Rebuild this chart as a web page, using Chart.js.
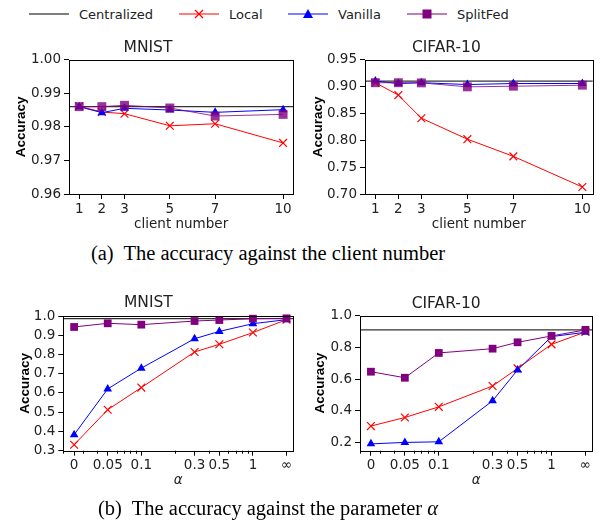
<!DOCTYPE html>
<html>
<head>
<meta charset="utf-8">
<script src="https://cdn.jsdelivr.net/npm/chart.js@4.4.0/dist/chart.umd.min.js"></script>
<style>
  body { margin: 0; width: 600px; height: 521px; position: relative; background: #fff; overflow: hidden; font-family: "DejaVu Sans", sans-serif; }
  .panel { position: absolute; }
  #legend { position: absolute; left: 0; top: 0; }
  .cap { position: absolute; left: 0; width: 536px; text-align: center; font-family: "Liberation Serif", serif; font-size: 20.5px; color: #000; line-height: 24px; }
</style>
</head>
<body>
<svg id="legend" width="600" height="28" font-family="DejaVu Sans" font-size="13" fill="#222"></svg>
<canvas id="mnistClient" class="panel" style="left:0;top:30px" width="300" height="205"></canvas>
<canvas id="cifarClient" class="panel" style="left:300px;top:30px" width="300" height="205"></canvas>
<div class="cap" style="top:241px">(a)&nbsp; The accuracy against the client number</div>
<canvas id="mnistAlpha" class="panel" style="left:0;top:280px" width="300" height="225"></canvas>
<canvas id="cifarAlpha" class="panel" style="left:300px;top:280px" width="300" height="225"></canvas>
<div class="cap" style="top:496px">(b)&nbsp; The accuracy against the parameter <i>α</i></div>
<script>
// ---- data ----
const clientNumbers = [1, 2, 3, 5, 7, 10];
const alphaLabels = ['0', '0.05', '0.1', '0.3', '0.5', '1', '∞'];
// 0 and ∞ sit one third of a decade outside 0.05 and 1 on the log axis
const alphaPositions = [0.025, 0.05, 0.1, 0.3, 0.5, 1, 2];
const alphaMinorTicks = [0.02, 0.03, 0.04, 0.06, 0.07, 0.08, 0.09, 0.2, 0.4, 0.6, 0.7, 0.8, 0.9];

const mnistCentralized = 0.986;
const cifarCentralized = 0.91;

const mnistClientLocal    = [0.9861, 0.9844, 0.9839, 0.9803, 0.9809, 0.9752];
const mnistClientVanilla  = [0.9860, 0.9842, 0.9855, 0.9850, 0.9843, 0.9851];
const mnistClientSplitFed = [0.9860, 0.9860, 0.9864, 0.9856, 0.9832, 0.9837];

const cifarClientLocal    = [0.907, 0.884, 0.841, 0.802, 0.770, 0.713];
const cifarClientVanilla  = [0.910, 0.9055, 0.907, 0.9036, 0.9055, 0.9055];
const cifarClientSplitFed = [0.907, 0.907, 0.9067, 0.8993, 0.9005, 0.9024];

const mnistAlphaLocal    = [0.331, 0.513, 0.628, 0.813, 0.853, 0.914, 0.981];
const mnistAlphaVanilla  = [0.383, 0.621, 0.729, 0.882, 0.920, 0.960, 0.981];
const mnistAlphaSplitFed = [0.943, 0.962, 0.955, 0.974, 0.979, 0.986, 0.988];

const cifarAlphaLocal    = [0.305, 0.359, 0.426, 0.557, 0.668, 0.819, 0.897];
const cifarAlphaVanilla  = [0.193, 0.202, 0.206, 0.464, 0.658, 0.868, 0.895];
const cifarAlphaSplitFed = [0.647, 0.609, 0.765, 0.792, 0.832, 0.872, 0.910];

const mnistClientTicks = [0.96, 0.97, 0.98, 0.99, 1.00];
const cifarClientTicks = [0.70, 0.75, 0.80, 0.85, 0.90, 0.95];
const mnistAlphaTicks  = [0.3, 0.4, 0.5, 0.6, 0.7, 0.8, 0.9, 1.0];
const cifarAlphaTicks  = [0.2, 0.4, 0.6, 0.8, 1.0];

// ---- legend ----
const legendItems = [
  { name: 'Centralized', color: '#000', marker: 'none', x: 29 },
  { name: 'Local', color: 'red', marker: 'x', x: 179 },
  { name: 'Vanilla', color: 'blue', marker: 'tri', x: 288 },
  { name: 'SplitFed', color: 'purple', marker: 'sq', x: 407 },
];
const svg = document.getElementById('legend');
let svgHtml = '';
legendItems.forEach(it => {
  const cx = it.x + 20, cy = 14;
  svgHtml += `<line x1="${it.x}" y1="${cy}" x2="${it.x + 40}" y2="${cy}" stroke="${it.color}" stroke-width="1.2"/>`;
  if (it.marker === 'x') svgHtml += `<path d="M${cx-4},${cy-4}L${cx+4},${cy+4}M${cx-4},${cy+4}L${cx+4},${cy-4}" stroke="red" stroke-width="1.2"/>`;
  if (it.marker === 'tri') svgHtml += `<path d="M${cx},${cy-5}L${cx+5},${cy+4}L${cx-5},${cy+4}Z" fill="blue"/>`;
  if (it.marker === 'sq') svgHtml += `<rect x="${cx-4.5}" y="${cy-4.5}" width="9" height="9" fill="purple"/>`;
  svgHtml += `<text x="${it.x + 50}" y="${cy + 5}">${it.name}</text>`;
});
svg.innerHTML = svgHtml;

// ---- charts ----
const tickFont = { family: 'DejaVu Sans', size: 13.5 };

const axesDecor = {
  id: 'axesDecor',
  beforeDatasetsDraw(chart, args, opts) {
    const { ctx, chartArea: a, scales } = chart;
    const y = scales.y.getPixelForValue(opts.central);
    ctx.save();
    ctx.strokeStyle = '#333';
    ctx.lineWidth = 1.3;
    ctx.beginPath();
    ctx.moveTo(a.left, y);
    ctx.lineTo(a.right, y);
    ctx.stroke();
    ctx.restore();
  },
  afterDraw(chart, args, opts) {
    const { ctx, chartArea: a, scales } = chart;
    ctx.save();
    ctx.strokeStyle = '#000';
    ctx.lineWidth = 1;
    ctx.strokeRect(Math.round(a.left) + 0.5, Math.round(a.top) + 0.5, Math.round(a.right - a.left), Math.round(a.bottom - a.top));
    if (opts.minor) {
      ctx.beginPath();
      opts.minor.forEach(v => {
        const x = Math.round(scales.x.getPixelForValue(v)) + 0.5;
        if (x < a.left || x > a.right) return;
        ctx.moveTo(x, a.bottom);
        ctx.lineTo(x, a.bottom + 3);
      });
      ctx.stroke();
    }
    ctx.restore();
  }
};

function series(xs, ys) {
  return xs.map((x, i) => ({ x, y: ys[i] }));
}

function makePanel(id, p) {
  const purple = p.faded ? 'rgba(128,0,128,0.8)' : 'purple';
  const xScale = p.log
    ? { type: 'logarithmic', min: 0.02, max: 2.3 }
    : { type: 'linear', min: 0.55, max: 10.45 };
  return new Chart(document.getElementById(id), {
    type: 'line',
    data: {
      datasets: [
        { label: 'Local', data: series(p.xs, p.local), borderColor: 'red', backgroundColor: 'red', borderWidth: 1,
          pointStyle: 'crossRot', pointRadius: 5.5, pointBorderWidth: 1.2, pointBorderColor: 'red' },
        { label: 'Vanilla', data: series(p.xs, p.vanilla), borderColor: 'blue', backgroundColor: 'blue', borderWidth: 1,
          pointStyle: 'triangle', pointRadius: 5, pointBorderWidth: 0 },
        { label: 'SplitFed', data: series(p.xs, p.split), borderColor: purple, backgroundColor: purple, borderWidth: 1,
          pointStyle: 'rect', pointRadius: p.sq, pointBorderWidth: 0 },
      ].reverse().map((d, i) => ({ ...d, order: i }))
    },
    options: {
      responsive: false,
      animation: false,
      clip: false,
      layout: { padding: { top: p.padTop, right: p.padRight, left: 0, bottom: 0 } },
      plugins: {
        legend: { display: false },
        tooltip: { enabled: false },
        title: { display: true, text: p.title, color: '#222', font: { family: 'DejaVu Sans', size: 15.5, weight: 'normal' },
                 padding: { top: 0, bottom: p.titleGap } },
        axesDecor: { central: p.central, minor: p.log ? alphaMinorTicks : null }
      },
      scales: {
        x: {
          ...xScale,
          afterFit: s => { s.height = p.xHeight; },
          afterBuildTicks: s => { s.ticks = (p.log ? alphaPositions : clientNumbers).map(v => ({ value: v })); },
          border: { display: false },
          grid: { drawOnChartArea: false, drawTicks: true, tickLength: 5, tickColor: '#000', tickWidth: 1 },
          ticks: {
            autoSkip: false, maxRotation: 0, padding: 2, color: '#222', font: tickFont,
            callback: v => p.log ? alphaLabels[alphaPositions.indexOf(v)] : String(v)
          },
          title: { display: true, text: p.log ? 'α' : 'client number', color: '#222',
                   font: { family: 'DejaVu Sans', size: 13.5, style: p.log ? 'italic' : 'normal' },
                   padding: { top: 0, bottom: p.xTitlePad } }
        },
        y: {
          type: 'linear', min: p.yMin, max: p.yMax,
          afterFit: s => { s.width = p.yWidth; },
          afterBuildTicks: s => { s.ticks = p.yTicks.map(v => ({ value: v })); },
          border: { display: false },
          grid: { drawOnChartArea: false, drawTicks: true, tickLength: 5, tickColor: '#000', tickWidth: 1 },
          ticks: { padding: 3, color: '#222', font: tickFont, callback: v => v.toFixed(p.dec) },
          title: { display: true, text: 'Accuracy', color: '#000',
                   font: { family: 'Liberation Sans', size: 13.5, weight: 'bold' },
                   padding: { top: p.yTitlePad, bottom: 0 } }
        }
      }
    },
    plugins: [axesDecor]
  });
}

makePanel('mnistClient', {
  title: 'MNIST', xs: clientNumbers, local: mnistClientLocal, vanilla: mnistClientVanilla, split: mnistClientSplitFed,
  central: mnistCentralized, yMin: 0.96, yMax: 1.0, yTicks: mnistClientTicks, dec: 2, faded: true, sq: 6.3,
  padTop: 9, titleGap: 2, padRight: 4, yWidth: 69, xHeight: 41, xTitlePad: 2.5, yTitlePad: 13.6
});
makePanel('cifarClient', {
  title: 'CIFAR-10', xs: clientNumbers, local: cifarClientLocal, vanilla: cifarClientVanilla, split: cifarClientSplitFed,
  central: cifarCentralized, yMin: 0.70, yMax: 0.95, yTicks: cifarClientTicks, dec: 2, faded: true, sq: 6.3,
  padTop: 9, titleGap: 2, padRight: 7.3, yWidth: 65, xHeight: 41, xTitlePad: 2.5, yTitlePad: 10.2
});
makePanel('mnistAlpha', {
  title: 'MNIST', log: true, xs: alphaPositions, local: mnistAlphaLocal, vanilla: mnistAlphaVanilla, split: mnistAlphaSplitFed,
  central: mnistCentralized, yMin: 0.3, yMax: 1.0, yTicks: mnistAlphaTicks, dec: 1, sq: 5.5,
  padTop: 13.5, titleGap: 3.9, padRight: 3.3, yWidth: 63.3, xHeight: 54.3, xTitlePad: 16.5, yTitlePad: 16.9
});
makePanel('cifarAlpha', {
  title: 'CIFAR-10', log: true, xs: alphaPositions, local: cifarAlphaLocal, vanilla: cifarAlphaVanilla, split: cifarAlphaSplitFed,
  central: cifarCentralized, yMin: 0.15, yMax: 1.0, yTicks: cifarAlphaTicks, dec: 1, sq: 5.5,
  padTop: 14.7, titleGap: 2.3, padRight: 7.7, yWidth: 60, xHeight: 54.3, xTitlePad: 16.5, yTitlePad: 12.6
});
</script>
</body>
</html>
